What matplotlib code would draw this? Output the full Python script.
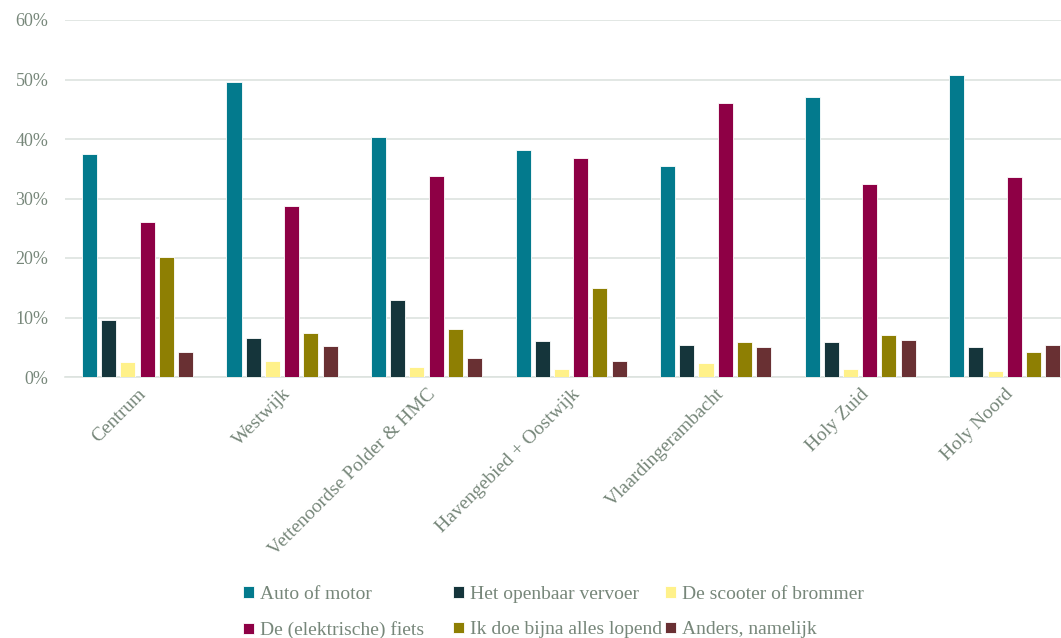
import numpy as np
import matplotlib.pyplot as plt
from matplotlib.ticker import PercentFormatter

categories = ["Centrum", "Westwijk", "Vettenoordse Polder & HMC", "Havengebied + Oostwijk",
              "Vlaardingerambacht", "Holy Zuid", "Holy Noord"]
auto = [37.5, 49.6, 40.3, 38.1, 35.4, 47.0, 50.8]
ov = [9.6, 6.6, 12.9, 6.1, 5.3, 5.9, 5.0]
scooter = [2.5, 2.7, 1.7, 1.3, 2.3, 1.3, 1.0]
fiets = [26.0, 28.7, 33.8, 36.8, 46.0, 32.4, 33.6]
lopend = [20.2, 7.4, 8.1, 14.9, 5.8, 7.1, 4.2]
anders = [4.2, 5.2, 3.2, 2.7, 5.1, 6.2, 5.4]

series = [
    ("Auto of motor", auto, "#037A8D"),
    ("Het openbaar vervoer", ov, "#15353B"),
    ("De scooter of brommer", scooter, "#FFF18A"),
    ("De (elektrische) fiets", fiets, "#8E0045"),
    ("Ik doe bijna alles lopend", lopend, "#8E7F03"),
    ("Anders, namelijk", anders, "#693033"),
]

txt = "#77877A"
plt.rcParams['font.family'] = ['Liberation Serif', 'DejaVu Serif']

fig = plt.figure(figsize=(10.61, 6.38), dpi=100)
ax = fig.add_axes([65 / 1061, 1 - 377 / 638, 996 / 1061, 357 / 638])

x = np.arange(len(categories))
width = 0.104
step = 0.133
handles = []
for i, (name, vals, col) in enumerate(series):
    off = (i - 2.5) * step
    b = ax.bar(x + off, vals, width, color=col, edgecolor="white", linewidth=0.6,
               label=name, zorder=3)
    handles.append(b)

ax.set_xlim(-0.502, 6.39)
ax.set_ylim(0, 60)
ax.set_yticks(range(0, 61, 10))
ax.yaxis.set_major_formatter(PercentFormatter(decimals=0))
ax.grid(axis="y", color="#DDE3DF", linewidth=1.2, zorder=0)
for s in ["top", "right", "left"]:
    ax.spines[s].set_visible(False)
ax.spines["bottom"].set_color("#DDE3DF")
ax.spines["bottom"].set_linewidth(1.2)
ax.tick_params(length=0, colors=txt)
ax.tick_params(axis="y", pad=12, labelsize=13)
ax.tick_params(axis="x", pad=6, labelsize=14)
ax.set_xticks(x)
ax.set_xticklabels(categories, rotation=45, ha="right", rotation_mode="anchor")

# three legend columns placed like the reference
col_x = [243, 453, 665]
for c in range(3):
    idx = [c, c + 3]
    leg = fig.legend([handles[i] for i in idx], [series[i][0] for i in idx],
                     loc="upper left", bbox_to_anchor=(col_x[c] / 1061, 1 - 586 / 638),
                     frameon=False, fontsize=14, handlelength=0.55, handleheight=0.55,
                     handletextpad=0.3, labelspacing=0.95, borderpad=0, borderaxespad=0)
    for t in leg.get_texts():
        t.set_color(txt)

fig.savefig("out.png", dpi=100)
